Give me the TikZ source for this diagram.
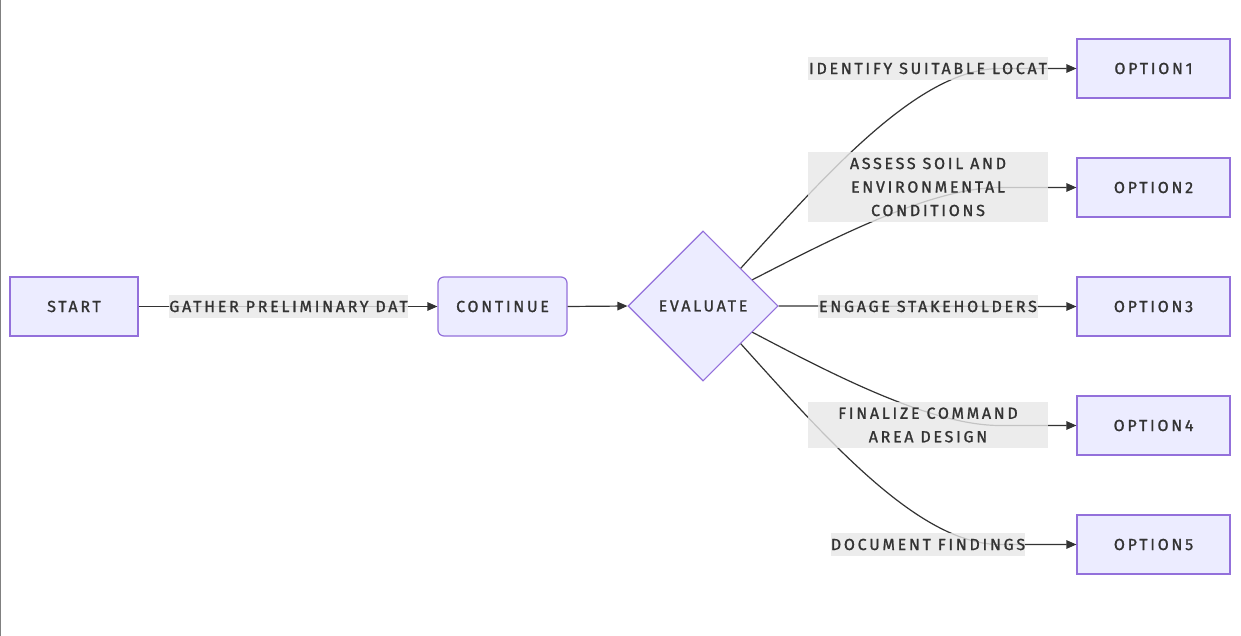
\documentclass[tikz,border=0pt]{standalone}
\usepackage{fontspec}
\setmainfont{Fira Sans}[LetterSpace=17,FakeBold=1.2]
\usetikzlibrary{shapes.geometric,arrows.meta}
\definecolor{nodefill}{HTML}{ECECFF}
\definecolor{nodeline}{HTML}{9370DB}
\definecolor{ink}{HTML}{333333}
\definecolor{lblfill}{HTML}{E8E8E8}
\tikzset{
  box/.style={draw=nodeline,fill=nodefill,line width=1.2pt,minimum width=128pt,minimum height=59pt,inner sep=0pt,text=ink,font=\fontsize{16}{18}\selectfont},
  optbox/.style={box,minimum width=153pt},
  rbox/.style={box,rounded corners=6pt,minimum width=129pt},
  dia/.style={draw=nodeline,fill=nodefill,line width=1.1pt,diamond,aspect=1,minimum width=150pt,minimum height=150pt,inner sep=0pt,text=ink,font=\fontsize{16}{18}\selectfont},
  lbl/.style={fill=lblfill,fill opacity=0.8,text opacity=1,text=ink,inner sep=0pt,align=center,font=\fontsize{16}{23.5}\selectfont},
  conn/.style={draw=ink,line width=1.2pt,-{Triangle[length=10pt,width=8.5pt]}}
}
\begin{document}
\begin{tikzpicture}[x=1pt,y=-1pt]
\useasboundingbox (0,0) rectangle (1241,636);
\fill[white] (0,0) rectangle (1241,636);
\draw[gray,line width=1.2pt] (0.6,0) -- (0.6,636);
\node[box] (start) at (74,306.5) {START};
\node[rbox] (cont) at (502.5,306.5) {CONTINUE};
\node[dia] (ev) at (703,306) {EVALUATE};
\node[optbox] (o1) at (1153.5,68.5) {OPTION1};
\node[optbox] (o2) at (1153.5,187.5) {OPTION2};
\node[optbox] (o3) at (1153.5,306.5) {OPTION3};
\node[optbox] (o4) at (1153.5,425.5) {OPTION4};
\node[optbox] (o5) at (1153.5,544.5) {OPTION5};
% connectors
\draw[conn] (start.east) -- (cont.west);
\draw[conn] (cont.east) -- (ev.west);
\draw[conn] (ev.45) .. controls (830,170) and (920,68.5) .. (1000,68.5) -- (o1.west);
\draw[conn] (ev.28) .. controls (830,240) and (930,187.5) .. (1000,187.5) -- (o2.west);
\draw[conn] (ev.east) -- (o3.west);
\draw[conn] (ev.-28) .. controls (830,373) and (930,425.5) .. (1000,425.5) -- (o4.west);
\draw[conn] (ev.-45) .. controls (830,443) and (920,544.5) .. (1000,544.5) -- (o5.west);
% labels
\node[lbl,minimum width=239pt,minimum height=23pt] (l0) at (288.5,306.5) {GATHER PRELIMINARY DAT};
\node[lbl,minimum width=240pt,minimum height=23pt] (l1) at (928,68.5) {IDENTIFY SUITABLE LOCAT};
\node[lbl,minimum width=240pt,minimum height=70pt] (l2) at (928,187) {ASSESS SOIL AND\\ENVIRONMENTAL\\CONDITIONS};
\node[lbl,minimum width=220pt,minimum height=23pt] (l3) at (928,306.5) {ENGAGE STAKEHOLDERS};
\node[lbl,minimum width=240pt,minimum height=46pt] (l4) at (928,425) {FINALIZE COMMAND\\AREA DESIGN};
\node[lbl,minimum width=194pt,minimum height=23pt] (l5) at (928,544.5) {DOCUMENT FINDINGS};
\end{tikzpicture}
\end{document}
